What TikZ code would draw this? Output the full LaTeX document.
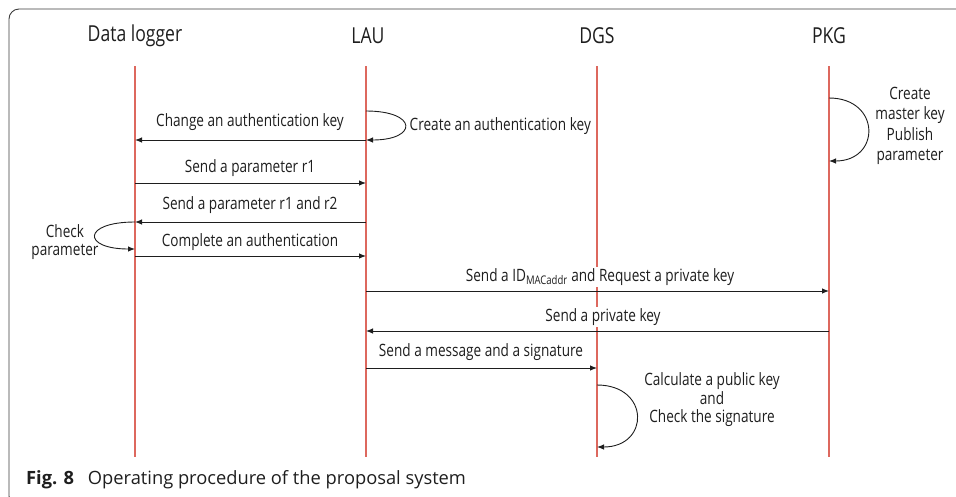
\documentclass[tikz,border=0pt]{standalone}
\usepackage{fontspec}
\setmainfont[FakeStretch=0.8]{Open Sans}
\newfontfamily\capfont{Open Sans}
\usetikzlibrary{arrows.meta}

\definecolor{lifered}{RGB}{221,104,94}
\definecolor{ink}{RGB}{30,30,30}
\definecolor{framegray}{RGB}{60,60,60}

\newcommand\msgfont{\fontsize{17}{18.5}\selectfont}
\newcommand\hdrfont{\fontsize{22}{24}\selectfont}

\tikzset{
  lifeline/.style={draw=lifered, line width=1.3pt},
  msg/.style={draw=ink, line width=0.9pt, -{Latex[length=7pt,width=5.5pt]}},
  selfloop/.style={draw=ink, line width=0.9pt, -{Latex[length=7pt,width=5.5pt]}},
  lbl/.style={font=\msgfont, text=ink, inner sep=1.5pt},
  wlbl/.style={lbl, fill=white},
  hdr/.style={font=\hdrfont, text=ink, inner sep=0pt},
}

\begin{document}
\begin{tikzpicture}[x=1pt, y=-1pt]
\useasboundingbox (0,0) rectangle (956,496);
\clip (0,0) rectangle (956,496);

% outer frame (runs past the right and bottom edges)
\draw[framegray, line width=0.9pt, rounded corners=10pt] (9,9) rectangle (990,506);

% participants
\node[hdr] (hdl)  at (135,36) {Data logger};
\node[hdr] (hlau) at (368,36) {LAU};
\node[hdr] (hdgs) at (597,36) {DGS};
\node[hdr] (hpkg) at (829,36) {PKG};

\coordinate (dltop)  at (135,66);  \coordinate (dlbot)  at (135,457);
\coordinate (lautop) at (366,66);  \coordinate (laubot) at (366,457);
\coordinate (dgstop) at (597,66);  \coordinate (dgsbot) at (597,457);
\coordinate (pkgtop) at (829,66);  \coordinate (pkgbot) at (829,457);

\draw[lifeline] (dltop) -- (dlbot);
\draw[lifeline] (lautop) -- (laubot);
\draw[lifeline] (dgstop) -- (dgsbot);
\draw[lifeline] (pkgtop) -- (pkgbot);

% message end points
\coordinate (a1) at (lautop |- 0,140); \coordinate (b1) at (dltop |- 0,140);
\coordinate (a2) at (dltop |- 0,183);  \coordinate (b2) at (lautop |- 0,183);
\coordinate (a3) at (lautop |- 0,222); \coordinate (b3) at (dltop |- 0,222);
\coordinate (a4) at (dltop |- 0,256);  \coordinate (b4) at (lautop |- 0,256);
\coordinate (a5) at (lautop |- 0,291); \coordinate (b5) at (pkgtop |- 0,291);
\coordinate (a6) at (pkgtop |- 0,331); \coordinate (b6) at (lautop |- 0,331);
\coordinate (a7) at (lautop |- 0,368); \coordinate (b7) at (dgstop |- 0,368);

% message labels
\node[lbl]  (l1) at (250,122) {Change an authentication key};
\node[lbl]  (l2) at (250,168) {Send a parameter r1};
\node[lbl]  (l3) at (250,205) {Send a parameter r1 and r2};
\node[lbl]  (l4) at (250,242) {Complete an authentication};
\node[wlbl] (l5) at (600,277) {Send a ID\textsubscript{MACaddr} and Request a private key};
\node[wlbl] (l6) at (603,317) {Send a private key};
\node[lbl]  (l7) at (481,352) {Send a message and a signature};

% messages
\draw[msg] (a1) -- (b1);
\draw[msg] (a2) -- (b2);
\draw[msg] (a3) -- (b3);
\draw[msg] (a4) -- (b4);
\draw[msg] (a5) -- (b5);
\draw[msg] (a6) -- (b6);
\draw[msg] (a7) -- (b7);

% self actions
\coordinate (s1) at (lautop |- 0,111); \coordinate (e1) at (lautop |- 0,140);
\draw[selfloop] (s1) .. controls (418,111) and (418,140) .. (e1);
\node[lbl, anchor=west] (t1) at (408,126) {Create an authentication key};

\coordinate (s2) at (dltop |- 0,222); \coordinate (e2) at (dltop |- 0,249);
\draw[selfloop] (s2) .. controls (82,222) and (82,249) .. (e2);
\node[lbl, align=center] (t2) at (65,242) {Check\\parameter};

\coordinate (s3) at (pkgtop |- 0,98); \coordinate (e3) at (pkgtop |- 0,161);
\draw[selfloop] (s3) .. controls (881,98) and (881,161) .. (e3);
\node[lbl, align=center, font=\fontsize{17}{20.5}\selectfont] (t3) at (910,126) {Create\\master key\\Publish\\parameter};

\coordinate (s4) at (dgstop |- 0,385); \coordinate (e4) at (dgstop |- 0,447);
\draw[selfloop] (s4) .. controls (650,385) and (650,447) .. (e4);
\node[lbl, align=center] (t4) at (712,400) {Calculate a public key\\and\\Check the signature};

% caption
\node[anchor=base west, inner sep=0pt, text=ink, font=\capfont\fontsize{18.3}{21}\selectfont] (cap) at (26,484)
  {\textbf{Fig. 8}\hspace{0.75em}Operating procedure of the proposal system};
\end{tikzpicture}
\end{document}
